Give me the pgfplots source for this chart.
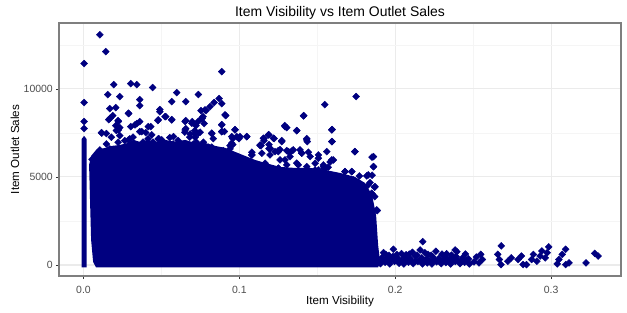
\documentclass[border=0pt]{standalone}
\usepackage{fontspec}
\setmainfont{Liberation Sans}
\usepackage{pgfplots}
\pgfplotsset{compat=1.18}
\definecolor{navyc}{HTML}{000080}
\definecolor{gridmaj}{HTML}{EBEBEB}
\definecolor{gridmin}{HTML}{F5F5F5}
\definecolor{tickc}{HTML}{4D4D4D}
\definecolor{borderc}{HTML}{7F7F7F}
\begin{document}
\begin{tikzpicture}
\useasboundingbox (-59bp,-37bp) rectangle (568bp,276bp);
\begin{axis}[
 scale only axis, width=562bp, height=253bp,
 xmin=-0.0157, xmax=0.3448, ymin=-625, ymax=13740,
 xtick={0,0.1,0.2,0.3}, ytick={0,5000,10000},
 minor xtick={0.05,0.15,0.25}, minor ytick={2500,7500,12500},
 xticklabels={0.0,0.1,0.2,0.3}, yticklabels={0,5000,10000},
 scaled y ticks=false, scaled x ticks=false,
 grid=both,
 major grid style={gridmaj, line width=1.07bp},
 minor grid style={gridmin, line width=0.53bp},
 tick align=outside, xtick pos=left, ytick pos=left,
 major tick length=3bp, minor tick length=0pt,
 tick style={color=black!80, line width=0.6bp},
 axis line style={borderc, line width=1.07bp},
 ticklabel style={font=\fontsize{10.5}{12}\selectfont, text=tickc, inner sep=0pt},
 xticklabel style={anchor=north, yshift=-6.5bp},
 yticklabel style={anchor=east, xshift=-3bp},
 xlabel={Item Visibility}, ylabel={Item Outlet Sales},
 xlabel style={font=\fontsize{11.7}{14}\selectfont, at={(axis description cs:0.5,-0.0988)}, anchor=center},
 ylabel style={font=\fontsize{11.7}{14}\selectfont, at={(axis description cs:-0.0783,0.5)}, anchor=center, rotate=0},
 title={Item Visibility vs Item Outlet Sales},
 every axis title shift=0pt,
 title style={font=\fontsize{14}{16}\selectfont, at={(axis description cs:0.5,1.0395)}, anchor=center},
]
% dense core of the cloud
\addplot[fill=navyc, draw=none, mark=none] table {
0.0081 -142
0.0062 170
0.0049 1420
0.0042 3693
0.0036 5682
0.0049 6193
0.0081 6534
0.0139 6648
0.0183 6762
0.0235 6818
0.0286 6932
0.0318 7102
0.0363 6989
0.0414 7102
0.0459 6989
0.0523 7102
0.0588 6989
0.0652 7102
0.0716 6932
0.0780 6932
0.0844 6762
0.0908 6648
0.0973 6421
0.1037 6193
0.1101 5966
0.1165 5795
0.1261 5568
0.1357 5511
0.1454 5511
0.1550 5398
0.1646 5227
0.1742 5000
0.1806 4659
0.1851 3977
0.1877 2841
0.1890 1136
0.1903 170
0.1890 -142
0.0081 -142
} -- cycle;
% items with zero visibility
\addplot[fill=navyc, draw=none, mark=none] table {
-0.0012 -140
0.0020 -140
0.0020 7150
0.0004 7330
-0.0012 7150
-0.0012 -140
} -- cycle;
% individual points
\addplot[navyc, only marks, mark=square*, mark size=2.45bp, mark options={fill=navyc, draw=none, rotate=45}] table {
0.0105 13068
0.0143 12120
0.0004 11438
0.0194 10245
0.0303 10302
0.0342 10245
0.0444 10075
0.0598 9790
0.0737 9677
0.0156 9677
0.0233 9563
0.0004 9222
0.0361 9392
0.0361 9051
0.0566 9279
0.0656 9279
0.0169 8881
0.0207 8938
0.0490 8824
0.0490 8700
0.0290 8597
0.0188 8483
0.0528 8426
0.0162 8256
0.0222 8199
0.0566 8256
0.0656 8199
0.0698 8142
0.0004 8142
0.0477 8199
0.0342 8029
0.0361 8142
0.0303 7858
0.0432 7858
0.0004 7745
0.0207 7915
0.0233 7801
0.0656 7745
0.0714 7631
0.0115 7517
0.0147 7460
0.0400 7517
0.0361 7574
0.0483 7176
0.0554 7233
0.0887 10983
0.0870 9449
0.0887 9165
0.0838 9222
0.0812 8995
0.0786 8767
0.0754 8767
0.0913 8483
0.0767 8426
0.0761 8313
0.0887 7972
0.0774 8029
0.0735 8142
0.0722 7915
0.0972 7688
0.0887 7574
0.0904 7574
0.1548 9108
0.1413 8483
0.1291 7915
0.1304 7801
0.1368 7631
0.1189 7404
0.1158 7176
0.1047 7290
0.0998 7176
0.0983 7290
0.0958 7176
0.1432 7176
0.1436 7006
0.1272 7063
0.1223 7176
0.1190 6835
0.1190 6608
0.1139 6779
0.1158 7063
0.1260 6551
0.1304 6494
0.1340 6494
0.0958 6835
0.0940 6779
0.0823 7460
0.0833 7176
0.1749 9563
0.1595 7688
0.1595 7006
0.1740 6438
0.0179 7256
0.0211 7631
0.0233 7347
0.0222 6972
0.0147 6875
0.0169 6591
0.0105 6534
0.0265 7063
0.0297 7159
0.0318 7256
0.0329 6875
0.0414 7159
0.0382 6972
0.0446 6972
0.0479 7159
0.0500 6779
0.0575 6875
0.0607 7063
0.0650 7540
0.0682 7256
0.0714 7443
0.0724 6972
0.0692 6688
0.0684 7443
0.0716 7256
0.0748 7540
0.0705 6875
0.0769 6972
0.0737 6591
0.0801 6688
0.0823 6688
0.0855 6404
0.0897 6494
0.0940 6591
0.1080 6404
0.1133 6779
0.1197 6591
0.1250 6494
0.1325 6404
0.1389 6534
0.1443 6404
0.0055 6000
0.0062 5700
0.1080 6250
0.1144 6347
0.1197 6250
0.1229 6438
0.1261 5966
0.1325 6154
0.1400 6347
0.1454 6154
0.1507 6250
0.1561 6438
0.1026 5779
0.1090 5682
0.1165 5779
0.1250 5494
0.1304 5682
0.1368 5779
0.1432 5585
0.1486 5398
0.1539 5682
0.1047 5210
0.1122 5114
0.1197 5301
0.1240 5017
0.1325 5114
0.1389 5210
0.1443 4926
0.1518 5017
0.1571 4830
0.1539 5585
0.1593 5966
0.1571 4642
0.1614 4830
0.1678 5301
0.1721 5301
0.1689 4642
0.1731 4830
0.1753 4449
0.1774 4165
0.1817 5057
0.1838 4676
0.1849 4074
0.1860 5585
0.1870 4449
0.1881 3125
0.1827 2653
0.1851 6120
0.1582 5852
0.1569 5551
0.1543 5494
0.1770 5057
0.1851 5097
0.1827 4545
0.1868 4415
0.1851 4034
0.1868 3881
0.1885 3085
0.0171 8335
0.0224 8142
0.0288 8620
0.0331 7955
0.0416 7858
0.0480 8239
0.0523 8426
0.0566 8239
0.0652 8142
0.0695 8051
0.0759 8335
0.0780 8807
0.0908 8523
0.0887 7955
0.0972 7671
0.1293 7858
0.1411 8466
0.1593 7671
0.1368 7631
0.0117 7483
0.0106 6438
0.0224 7671
0.0288 7103
0.0374 7574
0.0438 7387
0.0502 7103
0.0577 7290
0.0652 7671
0.0737 7483
0.0823 7483
0.0887 7574
0.0951 7290
0.1004 7290
0.1047 7290
0.0951 6915
0.0908 6438
0.1154 7199
0.1186 7387
0.1218 7199
0.1272 7006
0.1133 6818
0.1197 6631
0.1080 6250
0.1250 6438
0.1314 6438
0.1346 6534
0.1432 7103
0.1593 7006
0.1742 6438
0.1400 6347
0.1507 6063
0.1603 5966
0.1860 6154
0.1860 5585
0.1026 5779
0.1058 5779
0.1165 5494
0.1250 5494
0.1293 5966
0.1378 5682
0.1486 5779
0.1550 5494
0.1678 5301
0.1721 5301
0.1827 5114
0.1421 5210
0.1507 5398
0.1208 5017
0.1336 5114
0.1905 80
0.1935 150
0.1965 60
0.1995 200
0.2025 100
0.2055 60
0.2085 160
0.2115 80
0.2145 200
0.2175 60
0.2205 120
0.2235 60
0.2265 180
0.2295 80
0.2325 140
0.2355 60
0.2385 200
0.2415 80
0.2445 150
0.2475 60
0.2505 180
0.2537 120
0.1915 420
0.1950 380
0.1985 480
0.2020 360
0.2060 450
0.2095 380
0.2130 500
0.2170 400
0.2200 350
0.2240 470
0.2280 380
0.2320 450
0.2350 360
0.2390 480
0.2430 400
0.2470 350
0.2520 450
0.2559 312
0.1925 700
0.1988 892
0.2040 650
0.2110 720
0.2160 852
0.2176 1324
0.2210 600
0.2260 780
0.2330 640
0.2384 852
0.2395 756
0.2450 620
0.2548 602
0.1920 250
0.1950 200
0.1970 300
0.2000 260
0.2040 230
0.2070 300
0.2100 250
0.2130 220
0.2160 290
0.2190 250
0.2220 230
0.2250 300
0.2280 240
0.2310 280
0.2340 230
0.2370 300
0.2400 260
0.2430 220
0.2460 280
0.1940 600
0.1960 550
0.2010 600
0.2070 580
0.2090 620
0.2140 560
0.2190 700
0.2230 560
0.2300 620
0.2360 560
0.2680 1085
0.2657 602
0.2668 312
0.2678 23
0.2744 409
0.2722 216
0.2788 312
0.2809 506
0.2820 23
0.2886 602
0.2875 312
0.2842 23
0.2940 796
0.2929 506
0.2908 216
0.2984 1028
0.2974 699
0.2962 409
0.3093 892
0.3071 602
0.3049 312
0.3039 62
0.3115 119
0.3093 23
0.3224 119
0.3279 659
0.3301 506
};
\end{axis}
\end{tikzpicture}
\end{document}
